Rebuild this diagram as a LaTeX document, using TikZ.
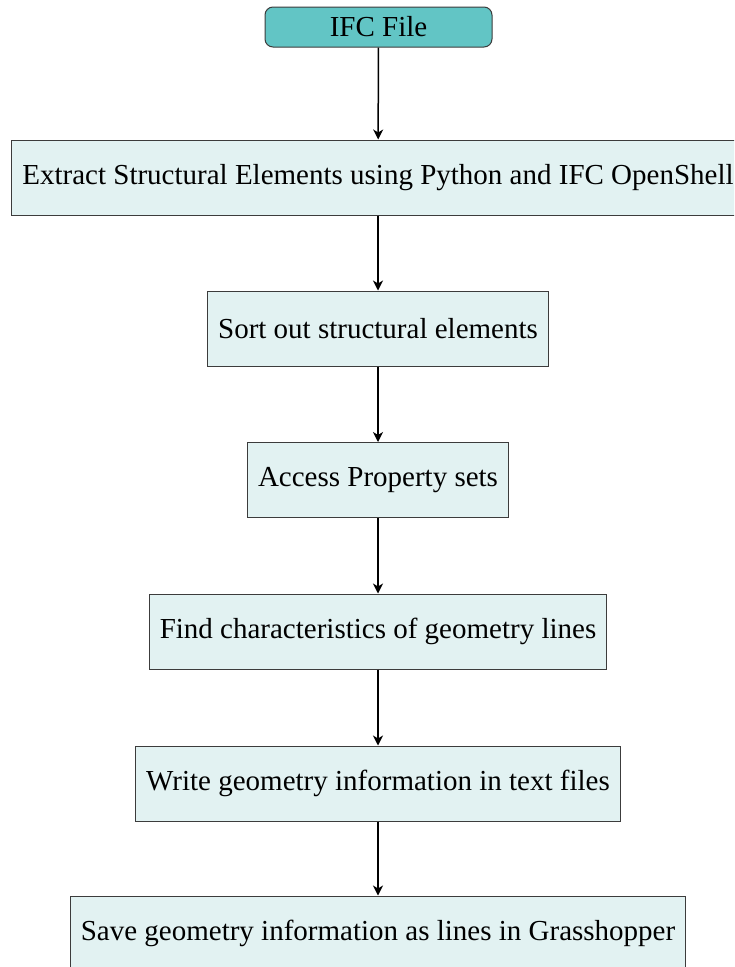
\documentclass[tikz,border=0pt]{standalone}
\usepackage{fontspec}
\setmainfont{Liberation Serif}
\usetikzlibrary{arrows.meta}
\definecolor{startfill}{RGB}{98,197,197}
\definecolor{boxfill}{RGB}{226,242,242}
\definecolor{boxline}{RGB}{60,60,60}
\tikzset{
  stepbox/.style={draw=boxline, line width=1pt, fill=boxfill, minimum height=75pt, inner xsep=10.5pt, font=\fontsize{29}{34}\selectfont, anchor=center},
  startbox/.style={draw=boxline, line width=1pt, fill=startfill, rounded corners=8pt, minimum width=227pt, minimum height=40pt, font=\fontsize{29}{34}\selectfont},
  flow/.style={-{Stealth[length=10pt,width=10pt,inset=3pt]}, line width=1.5pt, black}
}
\begin{document}
\begin{tikzpicture}[x=1pt,y=-1pt]
\useasboundingbox (0,0) rectangle (734,967);
\begin{scope}
\clip (0,0) rectangle (734,967);
\node[startbox] (n0) at (378.5,27) {IFC File};
\node[stepbox] (n1) at (378,177.5) {Extract Structural Elements using Python and IFC OpenShell};
\node[stepbox] (n2) at (378,328.5) {Sort out structural elements};
\node[stepbox] (n3) at (378,480) {Access Property sets};
\node[stepbox] (n4) at (378,631.5) {Find characteristics of geometry lines};
\node[stepbox] (n5) at (378,783.5) {Write geometry information in text files};
\node[stepbox] (n6) at (378,933.5) {Save geometry information as lines in Grasshopper};
\draw[flow] (n0) -- (n1);
\draw[flow] (n1) -- (n2);
\draw[flow] (n2) -- (n3);
\draw[flow] (n3) -- (n4);
\draw[flow] (n4) -- (n5);
\draw[flow] (n5) -- (n6);
\end{scope}
\end{tikzpicture}
\end{document}
